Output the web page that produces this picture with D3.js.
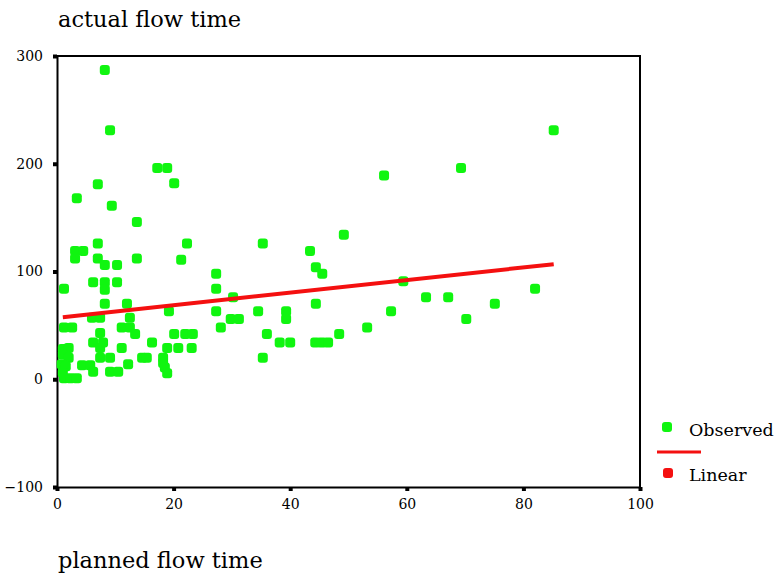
<!DOCTYPE html>
<html>
<head>
<meta charset="utf-8">
<script src="https://cdn.jsdelivr.net/npm/d3@7"></script>
<style>
  body { margin: 0; background: #fff; }
  svg text { font-family: "DejaVu Serif", "Liberation Serif", serif; fill: #000; }
</style>
</head>
<body>
<div id="chart"></div>
<script>
// planned flow time (x) and actual flow time (y)
const plannedFlow = [
    1, 2, 1, 2, 0.8, 1.5, 1, 1.2, 2.3, 1.2, 2.6, 1.2, 3.4, 7.0, 9.4, 8.2, 9.1,
    3.1, 4.5, 3.1, 7, 7, 8.2, 10.3, 13.7, 13.7,
    6.2, 8.2, 10.3, 8.2, 8.2, 12, 6, 7.4, 12.5,
    11.1, 12.5, 7.4, 13.4, 6.2, 7.9, 7.4, 11.1, 7.4, 9.1,
    4.3, 5.7, 6.2, 3.4, 9.1, 10.5, 12.2,
    17.2, 18.9, 20.1, 22.3, 21.3,
    16.3, 18.9, 20.8, 23.1, 20.1, 22, 23.3,
    14.6, 15.4, 18.2, 18.2, 18.5, 18.9, 19.2,
    27.3, 27.3, 27.3, 28.1, 30.2, 29.8, 31.2,
    34.5, 35.3, 36, 35.3, 38.2, 40, 39.3, 39.3,
    43.4, 44.4, 45.5, 44.4, 44.3, 45.4, 46.5, 48.4, 49.2,
    53.2, 56.1, 57.3, 59.4, 63.3, 67.1, 69.3, 70.2, 75.1, 82, 85.2
];
const actualFlow = [
    28, 29, 23, 20, 14, 12, 6, 1, 1, 48, 48, 84, 168, 181, 161, 287, 231,
    119, 119, 112, 126, 112, 106, 106, 146, 112,
    90, 90, 90, 83, 70, 70, 57, 57, 57,
    48, 48, 43, 42, 34, 34, 29, 29, 20, 20,
    13, 13, 7, 1, 7, 7, 14,
    196, 196, 182, 126, 111,
    34, 29, 29, 29, 42, 42, 42,
    20, 20, 20, 15, 11, 5.5, 63,
    98, 84, 63, 48, 76, 56, 56,
    63, 126, 42, 20, 34, 34, 63, 56,
    119, 104, 98, 70, 34, 34, 34, 42, 134,
    48, 189, 63, 91, 76, 76, 196, 56, 70, 84, 231
];

// linear fit line, ends
const fitX = [1, 85.2];
const fitY = [57.6, 106.8];

const xTicks = [0, 20, 40, 60, 80, 100];
const yTicks = [-100, 0, 100, 200, 300];

function init() {
    const W = 777, H = 575;
    const box = { left: 57, right: 640, top: 56, bottom: 487 };

    const svg = d3.select("#chart").append("svg")
        .attr("width", W).attr("height", H);

    const x = d3.scaleLinear().domain([0, 100]).range([box.left, box.right]);
    const y = d3.scaleLinear().domain([-100, 300]).range([box.bottom, box.top]);

    // frame top and right
    svg.append("path")
        .attr("d", `M${box.left},${box.top}H${box.right}V${box.bottom}`)
        .attr("fill", "none").attr("stroke", "#000").attr("stroke-width", 2);

    // axes with little square ticks
    const yAxis = svg.append("g")
        .attr("transform", `translate(${box.left},0)`)
        .call(d3.axisLeft(y).tickValues(yTicks).tickSize(4).tickPadding(10).tickSizeOuter(0));
    const xAxis = svg.append("g")
        .attr("transform", `translate(0,${box.bottom})`)
        .call(d3.axisBottom(x).tickValues(xTicks).tickSize(4).tickPadding(8).tickSizeOuter(0));

    [yAxis, xAxis].forEach(g => {
        g.select(".domain").attr("stroke-width", 2);
        g.selectAll(".tick line").attr("stroke-width", 4);
        g.selectAll(".tick text").style("font-size", "14px")
            .style("font-family", "'DejaVu Serif', serif");
    });

    // observed points
    const pts = plannedFlow.map((v, i) => ({ x: v, y: actualFlow[i] }));
    svg.append("g")
        .selectAll("rect")
        .data(pts)
        .join("rect")
        .attr("x", d => x(d.x) - 5)
        .attr("y", d => y(d.y) - 5)
        .attr("width", 10).attr("height", 10)
        .attr("rx", 3)
        .attr("fill", "#10f510");

    // linear fit
    const line = d3.line().x(d => x(d[0])).y(d => y(d[1]));
    svg.append("path")
        .datum(fitX.map((v, i) => [v, fitY[i]]))
        .attr("d", line)
        .attr("fill", "none")
        .attr("stroke", "#f41010")
        .attr("stroke-width", 4);

    // axis titles
    svg.append("text").attr("x", 58).attr("y", 27)
        .style("font-size", "22.5px").text("actual flow time");
    svg.append("text").attr("x", 58).attr("y", 568)
        .style("font-size", "22.5px").text("planned flow time");

    // legend
    const lg = svg.append("g");
    lg.append("rect").attr("x", 662).attr("y", 422).attr("width", 10).attr("height", 10)
        .attr("rx", 3).attr("fill", "#10f510");
    lg.append("text").attr("x", 689).attr("y", 436).style("font-size", "17.5px").text("Observed");
    lg.append("line").attr("x1", 657).attr("x2", 701).attr("y1", 452).attr("y2", 452)
        .attr("stroke", "#f41010").attr("stroke-width", 3);
    lg.append("rect").attr("x", 663).attr("y", 468).attr("width", 10).attr("height", 10)
        .attr("rx", 3).attr("fill", "#f41010");
    lg.append("text").attr("x", 689).attr("y", 481).style("font-size", "17.5px").text("Linear");
}

window.onload = init;
</script>
</body>
</html>
